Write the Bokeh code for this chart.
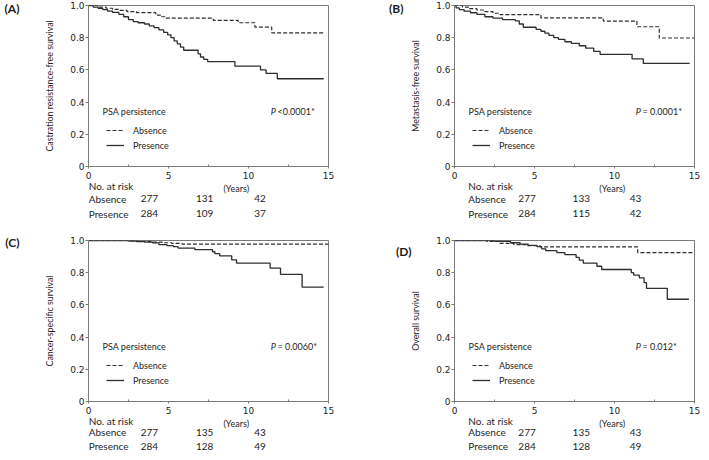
from bokeh.plotting import figure
from bokeh.models import (Range1d, FixedTicker, Label, Legend, LegendItem, LinearAxis,
                          CustomJSTickFormatter)
from bokeh.layouts import column, row
from bokeh.embed import file_html
from bokeh.resources import INLINE
from bokeh.core.properties import value

# ---------------- data ----------------
x_ticks = [0, 5, 10, 15]
y_ticks = [0, 0.2, 0.4, 0.6, 0.8, 1.0]
risk_times = [0, 5, 10]
groups = ["Absence", "Presence"]
risk_title = "No. at risk"
legend_title = "PSA persistence"

# (A) Castration resistance-free survival
a_abs_t = [0, 0.6, 1.1, 1.5, 1.9, 2.4, 3.0, 4.2, 4.5, 4.8, 7.8, 9.35, 10.4, 11.45, 14.7]
a_abs_s = [1.0, 0.99, 0.983, 0.976, 0.97, 0.962, 0.956, 0.94, 0.93, 0.921, 0.908, 0.893, 0.866, 0.83, 0.83]
a_pre_t = [0, 0.3, 0.6, 0.9, 1.2, 1.5, 1.9, 2.2, 2.5, 2.8, 3.1, 3.5, 3.8, 4.1, 4.4, 4.7, 4.95, 5.15,
           5.35, 5.55, 5.75, 5.95, 6.85, 7.0, 7.2, 7.45, 9.15, 10.75, 11.1, 11.8, 14.7]
a_pre_s = [1.0, 0.99, 0.982, 0.974, 0.965, 0.957, 0.945, 0.93, 0.912, 0.9, 0.893, 0.885, 0.873, 0.862,
           0.848, 0.833, 0.818, 0.8, 0.78, 0.762, 0.742, 0.722, 0.70, 0.68, 0.665, 0.652, 0.623, 0.60,
           0.578, 0.545, 0.545]
a_risk_abs = [277, 131, 42]
a_risk_pre = [284, 109, 37]
a_p = "<0.0001*"

# (B) Metastasis-free survival
b_abs_t = [0, 0.5, 0.9, 1.4, 1.9, 2.4, 2.85, 5.4, 9.3, 11.4, 12.8, 15.0]
b_abs_s = [1.0, 0.99, 0.98, 0.972, 0.962, 0.952, 0.943, 0.923, 0.903, 0.868, 0.798, 0.798]
b_pre_t = [0, 0.1, 0.3, 0.6, 1.0, 1.4, 1.9, 2.4, 3.0, 3.8, 4.05, 4.3, 5.1, 5.4, 5.65, 5.9, 6.2, 6.5,
           6.9, 7.3, 7.8, 8.2, 8.7, 9.1, 11.1, 11.8, 14.7]
b_pre_s = [1.0, 0.985, 0.975, 0.965, 0.955, 0.945, 0.93, 0.922, 0.912, 0.905, 0.885, 0.865, 0.852,
           0.84, 0.828, 0.815, 0.8, 0.79, 0.775, 0.765, 0.75, 0.735, 0.715, 0.697, 0.668, 0.64, 0.64]
b_risk_abs = [277, 133, 43]
b_risk_pre = [284, 115, 42]
b_p = "= 0.0001*"

# (C) Cancer-specific survival
c_abs_t = [0, 2.8, 3.3, 4.0, 4.6, 5.2, 5.85, 15.0]
c_abs_s = [1.0, 0.997, 0.994, 0.99, 0.986, 0.982, 0.978, 0.978]
c_pre_t = [0, 2.5, 3.0, 3.5, 4.0, 4.4, 4.9, 5.3, 5.6, 6.65, 7.75, 7.9, 8.2, 8.95, 9.25, 11.35, 12.0,
           13.35, 14.7]
c_pre_s = [1.0, 0.997, 0.993, 0.99, 0.985, 0.975, 0.968, 0.962, 0.953, 0.943, 0.93, 0.918, 0.905,
           0.88, 0.86, 0.828, 0.79, 0.71, 0.71]
c_risk_abs = [277, 135, 43]
c_risk_pre = [284, 128, 49]
c_p = "= 0.0060*"

# (D) Overall survival
d_abs_t = [0, 2.0, 2.8, 3.7, 4.5, 5.35, 11.45, 15.0]
d_abs_s = [1.0, 0.995, 0.982, 0.975, 0.968, 0.96, 0.925, 0.925]
d_pre_t = [0, 2.5, 3.5, 4.1, 4.6, 5.15, 5.45, 5.7, 6.4, 6.9, 7.6, 7.8, 8.05, 8.9, 9.2, 11.05, 11.2,
           11.55, 11.85, 12.0, 13.3, 14.65]
d_pre_s = [1.0, 0.995, 0.986, 0.978, 0.97, 0.962, 0.948, 0.937, 0.925, 0.912, 0.895, 0.878, 0.86,
           0.84, 0.82, 0.80, 0.785, 0.768, 0.738, 0.703, 0.635, 0.635]
d_risk_abs = [277, 135, 43]
d_risk_pre = [284, 128, 49]
d_p = "= 0.012*"

TEXT = "#1e1e1e"
LINE = "#2e2e2e"
FRAME = "#7a7a7a"
FONT = "Lato"
TICKFONT = "DejaVu Sans"
PXYR = 16.0  # frame px per year (240 px / 15 years)


def panel(letter, letter_y, letter_standoff, ylabel, abs_t, abs_s, pre_t, pre_s, ptext, p_x,
          width, height, bl, br, bt, bb):
    p = figure(width=width, height=height, x_range=Range1d(0, 15), y_range=Range1d(0, 1),
               output_backend="svg", toolbar_location=None, title=None,
               min_border_left=bl, min_border_right=br, min_border_top=bt, min_border_bottom=bb)
    p.grid.visible = False
    p.outline_line_color = FRAME
    p.outline_line_width = 1
    p.background_fill_color = "white"
    p.border_fill_color = "white"

    xa = p.xaxis[0]
    xa.ticker = FixedTicker(ticks=x_ticks, minor_ticks=[2.5, 7.5, 12.5])
    xa.major_tick_out = 2
    xa.major_tick_in = 0
    xa.minor_tick_out = 0
    xa.minor_tick_in = 2
    xa.major_label_standoff = 3
    ya = p.yaxis[0]
    ya.ticker = FixedTicker(ticks=y_ticks, minor_ticks=[])
    ya.formatter = CustomJSTickFormatter(code="return tick == 0 ? '0' : tick.toFixed(1);")
    ya.major_tick_out = 3
    ya.major_tick_in = 0
    ya.major_label_standoff = 1
    ya.axis_label = ylabel
    ya.axis_label_standoff = 12
    ya.axis_label_text_font = FONT
    ya.axis_label_text_font_size = "8.8px"
    ya.axis_label_text_font_style = "normal"
    ya.axis_label_text_color = TEXT
    for ax in (xa, ya):
        ax.axis_line_color = FRAME
        ax.major_tick_line_color = FRAME
        ax.minor_tick_line_color = FRAME
        ax.major_label_text_font = TICKFONT
        ax.major_label_text_font_size = "9px"
        ax.major_label_text_color = TEXT

    # panel letter, carried by an outer label-only axis on the left
    la = LinearAxis(ticker=FixedTicker(ticks=[letter_y], minor_ticks=[]),
                    formatter=CustomJSTickFormatter(code="return '%s';" % letter),
                    axis_line_color=None, major_tick_line_color=None, minor_tick_line_color=None,
                    major_tick_out=0, major_tick_in=0, major_label_standoff=letter_standoff,
                    major_label_text_font=FONT, major_label_text_font_style="bold",
                    major_label_text_font_size="12px", major_label_text_color=TEXT)
    p.add_layout(la, "left")

    r_abs = p.step(abs_t, abs_s, mode="after", line_color=LINE, line_width=1.2, line_dash="4 2")
    r_pre = p.step(pre_t, pre_s, mode="after", line_color=LINE, line_width=1.3)

    leg = Legend(items=[LegendItem(label=groups[0], renderers=[r_abs]),
                        LegendItem(label=groups[1], renderers=[r_pre])],
                 location=(18, 14), orientation="vertical",
                 border_line_color=None, background_fill_alpha=0, padding=0, margin=0,
                 spacing=1, glyph_width=18, glyph_height=14, label_height=14,
                 label_standoff=9, label_text_font=FONT, label_text_font_size="9px",
                 label_text_color=TEXT)
    p.add_layout(leg)

    common = dict(text_font=FONT, text_color=TEXT, text_baseline="middle", text_font_size="9px")
    p.add_layout(Label(x=0.88, y=0.341, text=legend_title, text_align="left", **common))
    p.add_layout(Label(x=p_x, y=0.341, text="P", text_font_style="italic", text_align="left",
                       **common))
    p.add_layout(Label(x=p_x + 0.42, y=0.341, text=ptext, text_align="left", **common))
    return p


def risk(width, height, frame_left, rowlab_x, y_no, y_years, y_abs, y_pre, risk_abs, risk_pre):
    x0 = -frame_left / PXYR
    x1 = (width - frame_left) / PXYR
    r = figure(width=width, height=height, x_range=Range1d(x0, x1), y_range=Range1d(height, 0),
               output_backend="svg", toolbar_location=None, title=None,
               x_axis_location=None, y_axis_location=None,
               min_border_left=0, min_border_right=0, min_border_top=0, min_border_bottom=0)
    r.outline_line_color = None
    r.grid.visible = False
    r.background_fill_color = "white"
    r.border_fill_color = "white"
    font = dict(text_font=value(FONT), text_color=TEXT, text_baseline="middle",
                text_font_size="10px")
    r.text(x=[rowlab_x] * 3, y=[y_no, y_abs, y_pre], text=[risk_title] + groups,
           text_align="left", **font)
    r.text(x=risk_times + risk_times, y=[y_abs] * 3 + [y_pre] * 3,
           text=[str(v) for v in risk_abs + risk_pre], text_align="center", **font)
    r.text(x=[7.85], y=[y_years], text=["(Years)"], text_align="center", text_font=value(FONT),
           text_color=TEXT, text_baseline="middle", text_font_size="9px")
    return r


LW, RW = 347, 354
TOP_MAIN, TOP_RISK = 181, 45
BOT_MAIN, BOT_RISK = 190, 36

pA = panel("(A)", 0.985, 22, "Castration resistance-free survival", a_abs_t, a_abs_s, a_pre_t,
           a_pre_s, a_p, 11.39, LW, TOP_MAIN, 88, 19, 5, 15)
pB = panel("(B)", 0.985, 4, "Metastasis-free survival", b_abs_t, b_abs_s, b_pre_t, b_pre_s,
           b_p, 11.33, RW, TOP_MAIN, 107, 7, 5, 15)
pC = panel("(C)", 0.988, 22, "Cancer-specific survival", c_abs_t, c_abs_s, c_pre_t, c_pre_s,
           c_p, 11.39, LW, BOT_MAIN, 88, 19, 14, 15)
pD = panel("(D)", 0.934, -4, "Overall survival", d_abs_t, d_abs_s, d_pre_t, d_pre_s,
           d_p, 11.33, RW, BOT_MAIN, 107, 7, 14, 15)

rA = risk(LW, TOP_RISK, 88, -5.48, 4.8, 6.8, 17.3, 32.3, a_risk_abs, a_risk_pre)
rB = risk(RW, TOP_RISK, 107, -5.41, 4.8, 6.8, 17.3, 32.3, b_risk_abs, b_risk_pre)
rC = risk(LW, BOT_RISK, 88, -5.48, 4.8, 6.5, 15.6, 29.8, c_risk_abs, c_risk_pre)
rD = risk(RW, BOT_RISK, 107, -5.41, 4.8, 6.5, 15.6, 29.8, d_risk_abs, d_risk_pre)

layout = column(row(column(pA, rA), column(pB, rB)), row(column(pC, rC), column(pD, rD)))
open("out.html", "w").write(file_html(layout, INLINE))
